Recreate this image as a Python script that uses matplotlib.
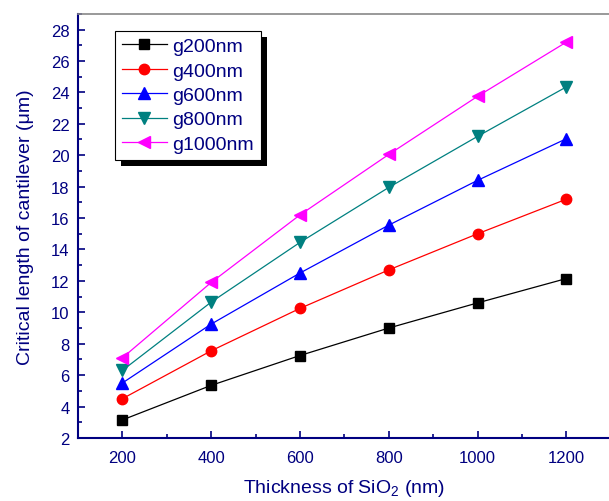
import matplotlib
matplotlib.use("Agg")
import matplotlib.pyplot as plt
from matplotlib.patches import Rectangle
from matplotlib.transforms import IdentityTransform
from matplotlib.ticker import MultipleLocator

plt.rcParams['font.family'] = ['Liberation Sans', 'DejaVu Sans']
plt.rcParams['mathtext.default'] = 'regular'

# data
thickness = [200, 400, 600, 800, 1000, 1200]
g200 = [3.15, 5.35, 7.25, 9.0, 10.6, 12.15]
g400 = [4.5, 7.55, 10.25, 12.7, 15.0, 17.2]
g600 = [5.5, 9.25, 12.5, 15.55, 18.4, 21.05]
g800 = [6.3, 10.65, 14.45, 17.95, 21.2, 24.35]
g1000 = [7.1, 11.9, 16.2, 20.05, 23.75, 27.2]
labels = ["g200nm", "g400nm", "g600nm", "g800nm", "g1000nm"]

navy = "#000080"
series = [g200, g400, g600, g800, g1000]
colors = ["black", "red", "blue", "#008080", "#ff00ff"]
markers = ["s", "o", "^", "v", "<"]
msizes = [6.5, 7.5, 9, 9, 9]

fig = plt.figure(figsize=(6.09, 5.02), dpi=100)
ax = fig.add_axes([0.128, 0.1255, 0.875, 0.845])

for ys, c, m, ms, lab in zip(series, colors, markers, msizes, labels):
    ax.plot(thickness, ys, color=c, marker=m, markersize=ms, linewidth=0.9,
            markeredgecolor=c, label=lab)

ax.set_xlim(100, 1300)
ax.set_ylim(2, 29)
ax.xaxis.set_major_locator(MultipleLocator(200))
ax.xaxis.set_minor_locator(MultipleLocator(100))
ax.yaxis.set_major_locator(MultipleLocator(2))
ax.yaxis.set_minor_locator(MultipleLocator(1))
ax.tick_params(which='both', direction='in', color=navy, width=1.2,
               labelcolor=navy, labelsize=12, top=False, right=False)
ax.tick_params(which='major', length=5)
ax.tick_params(which='minor', length=3)
ax.tick_params(axis='x', which='major', pad=9)
ax.tick_params(axis='y', which='major', pad=6)

for s in ['left', 'bottom']:
    ax.spines[s].set_color(navy)
    ax.spines[s].set_linewidth(1.5)
ax.spines['top'].set_color('#888888')
ax.spines['top'].set_linewidth(1.2)
ax.spines['right'].set_visible(False)

ax.set_xlabel("Thickness of SiO$_2$ (nm)", color=navy, fontsize=14, labelpad=8)
ax.set_ylabel("Critical length of cantilever (\u03bcm)", color=navy, fontsize=14, labelpad=12)

leg = ax.legend(loc='upper left', bbox_to_anchor=(0.07, 0.96), borderaxespad=0,
                fontsize=14, frameon=True, fancybox=False, edgecolor='black',
                facecolor='white', framealpha=1,
                handlelength=2.3, handletextpad=0.3, labelspacing=0.35,
                borderpad=0.35)
leg.get_frame().set_linewidth(0.8)
for t in leg.get_texts():
    t.set_color(navy)

# black drop shadow behind the legend box
fig.canvas.draw()
bb = leg.get_window_extent()
shadow = Rectangle((bb.x0 + 6, bb.y0 - 6), bb.width, bb.height, facecolor='black',
                   edgecolor='none', transform=IdentityTransform(), zorder=4.9,
                   clip_on=False)
ax.add_patch(shadow)

fig.savefig("out.png", dpi=100)
